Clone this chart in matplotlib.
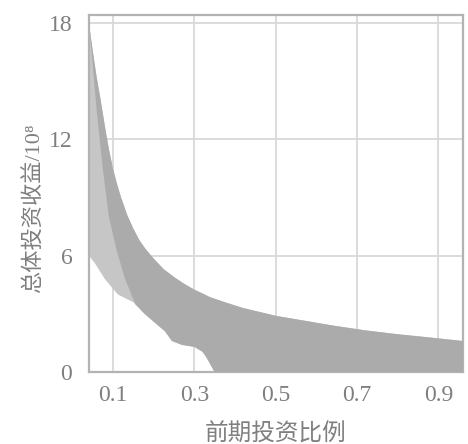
import numpy as np
import matplotlib
matplotlib.use("Agg")
import matplotlib.pyplot as plt

# Upper envelope of the band of curves
x_upper = [0.041, 0.05, 0.06, 0.07, 0.08, 0.09, 0.10, 0.11, 0.12, 0.135, 0.15, 0.165,
           0.18, 0.20, 0.225, 0.25, 0.275, 0.30, 0.34, 0.375, 0.42, 0.46, 0.50,
           0.57, 0.64, 0.72, 0.80, 0.88, 0.96]
y_upper = [18.0, 16.6, 15.2, 14.0, 12.7, 11.5, 10.5, 9.7, 9.0, 8.1, 7.4, 6.8,
           6.35, 5.85, 5.3, 4.9, 4.55, 4.25, 3.85, 3.6, 3.3, 3.1, 2.9,
           2.65, 2.4, 2.15, 1.95, 1.78, 1.6]

# Lower envelope of the band
x_lower = [0.041, 0.056, 0.08, 0.112, 0.15, 0.178, 0.20, 0.228, 0.245, 0.27, 0.30,
           0.32, 0.33, 0.338, 0.35, 0.96]
y_lower = [6.0, 5.6, 4.8, 4.0, 3.6, 3.0, 2.6, 2.1, 1.6, 1.4, 1.3,
           1.05, 0.75, 0.45, 0.0, 0.0]

# Boundary between the lighter (left) part and the darker main band
x_mid = [0.041, 0.06, 0.075, 0.09, 0.11, 0.13, 0.155, 0.178]
y_mid = [18.0, 13.5, 10.5, 8.0, 6.2, 4.8, 3.5, 3.0]

x_ticks = [0.1, 0.3, 0.5, 0.7, 0.9]
x_ticklabels = ["0.1", "0.3", "0.5", "0.7", "0.9"]
y_ticks = [0, 6, 12, 18]
y_ticklabels = ["0", "6", "12", "18"]

x_label = "前期投资比例"
y_label = "总体投资收益/10⁸"

fig = plt.figure(figsize=(4.68, 4.44), dpi=100)
ax = fig.add_axes([0.190, 0.162, 0.799, 0.804])

xu, yu = np.array(x_upper), np.array(y_upper)
xl, yl = np.array(x_lower), np.array(y_lower)
xm, ym = np.array(x_mid), np.array(y_mid)

# whole band (light)
ax.fill(np.r_[xu, xl[::-1]], np.r_[yu, yl[::-1]], color="#c6c6c6", lw=0, zorder=2)
# darker main band
sel = xl >= xm[-1]
ax.fill(np.r_[xu, xl[sel][::-1], xm[::-1]], np.r_[yu, yl[sel][::-1], ym[::-1]],
        color="#ababab", lw=0, zorder=3)

ax.set_xlim(0.041, 0.96)
ax.set_ylim(0, 18.4)
ax.set_xticks(x_ticks)
ax.set_xticklabels(x_ticklabels)
ax.set_yticks(y_ticks)
ax.set_yticklabels(y_ticklabels)

txt = "#7f7f7f"
for lab in ax.get_xticklabels() + ax.get_yticklabels():
    lab.set_family("Liberation Serif")
    lab.set_fontsize(17)
    lab.set_color(txt)
ax.tick_params(axis="both", length=0)
ax.tick_params(axis="x", pad=9)
ax.tick_params(axis="y", pad=12)

ax.grid(True, color="#d9d9d9", lw=1.3, zorder=1)
ax.set_axisbelow(True)
for s in ax.spines.values():
    s.set_color("#b3b3b3")
    s.set_linewidth(1.6)

ax.set_xlabel(x_label, family=["Noto Sans CJK SC"], fontsize=17, color=txt, labelpad=12)
ax.set_ylabel(y_label, family=["Liberation Serif", "Noto Sans CJK SC", "DejaVu Serif"],
              fontsize=16, color=txt)
ax.yaxis.set_label_coords(-0.118, 0.46)

fig.savefig("out.png", dpi=100, facecolor="white")
